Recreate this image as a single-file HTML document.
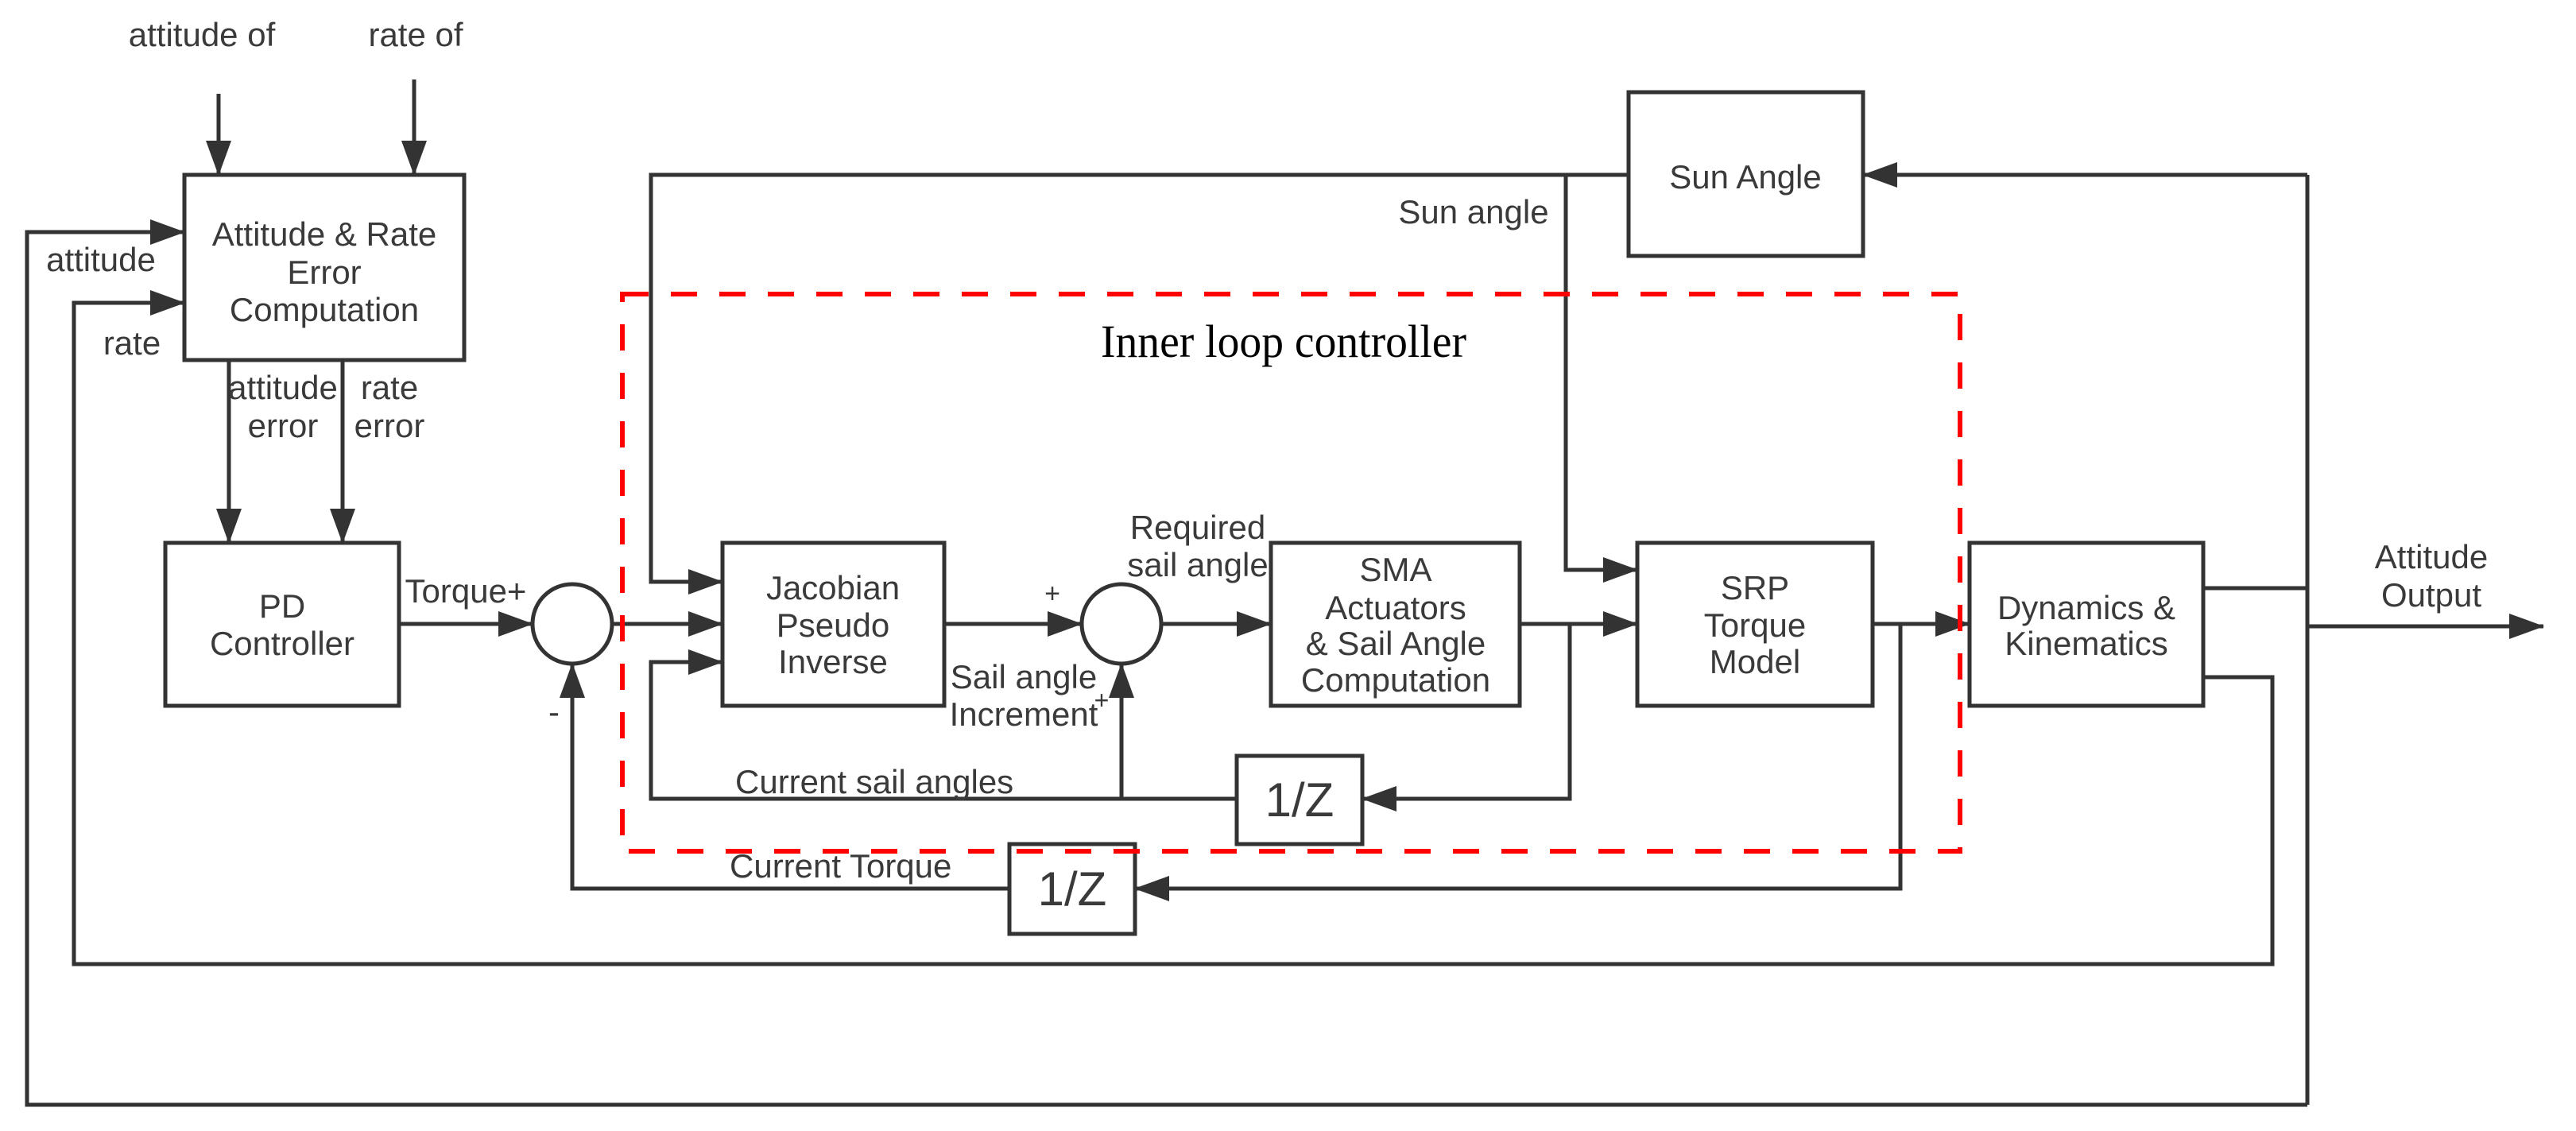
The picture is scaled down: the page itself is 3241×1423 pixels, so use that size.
<!DOCTYPE html>
<html><head><meta charset="utf-8"><style>
html,body{margin:0;padding:0;background:#fff;}
svg{display:block;}
text{font-family:"Liberation Sans",sans-serif;fill:#3a3a3a;}
</style></head><body>
<svg width="3241" height="1423" viewBox="0 0 3241 1423" xmlns="http://www.w3.org/2000/svg">
<defs>
<marker id="a" markerWidth="44" markerHeight="32" refX="43" refY="16" orient="auto" markerUnits="userSpaceOnUse">
<path d="M0,0 L44,16 L0,32 Z" fill="#333"/>
</marker>
</defs>
<g fill="none" stroke="#333" stroke-width="5">
<rect x="232" y="220" width="352" height="233"/>
<rect x="208" y="683" width="294" height="205"/>
<rect x="909" y="683" width="279" height="205"/>
<rect x="1599" y="683" width="313" height="205"/>
<rect x="2060" y="683" width="296" height="205"/>
<rect x="2478" y="683" width="294" height="205"/>
<rect x="2049" y="116" width="295" height="206"/>
<rect x="1556" y="951" width="158" height="111"/>
<rect x="1270" y="1062" width="158" height="113"/>
<circle cx="720" cy="785" r="50"/>
<circle cx="1411" cy="785" r="50"/>
<path d="M275,118 V220" marker-end="url(#a)"/>
<path d="M521,100 V220" marker-end="url(#a)"/>
<path d="M2903,1390 H34 V292 H232" marker-end="url(#a)"/>
<path d="M2772,852 H2859 V1213 H93 V381 H232" marker-end="url(#a)"/>
<path d="M288,453 V683" marker-end="url(#a)"/>
<path d="M431,453 V683" marker-end="url(#a)"/>
<path d="M502,785 H670" marker-end="url(#a)"/>
<path d="M770,785 H909" marker-end="url(#a)"/>
<path d="M2049,220 H819 V732 H909" marker-end="url(#a)"/>
<path d="M1556,1005 H819 V833 H909" marker-end="url(#a)"/>
<path d="M1411,1005 V835" marker-end="url(#a)"/>
<path d="M1188,785 H1361" marker-end="url(#a)"/>
<path d="M1461,785 H1599" marker-end="url(#a)"/>
<path d="M1912,785 H2060" marker-end="url(#a)"/>
<path d="M1975,785 V1005 H1714" marker-end="url(#a)"/>
<path d="M1970,220 V717 H2060" marker-end="url(#a)"/>
<path d="M2356,785 H2478" marker-end="url(#a)"/>
<path d="M2391,785 V1118 H1428" marker-end="url(#a)"/>
<path d="M1270,1118 H720 V835" marker-end="url(#a)"/>
<path d="M2772,740 H2903"/>
<path d="M2903,220 V1390"/>
<path d="M2903,220 H2344" marker-end="url(#a)"/>
<path d="M2903,788 H3200" marker-end="url(#a)"/>
</g>
<rect x="783" y="370" width="1683" height="701" fill="none" stroke="#f00" stroke-width="6" stroke-dasharray="33 28"/>

<g font-size="42" text-anchor="middle">
<text x="254" y="58">attitude of</text>
<text x="523" y="58">rate of</text>
<text x="127" y="341">attitude</text>
<text x="166" y="446">rate</text>
<text x="408" y="309">Attitude &amp; Rate</text>
<text x="408" y="357">Error</text>
<text x="408" y="404">Computation</text>
<text x="356" y="502">attitude</text>
<text x="356" y="550">error</text>
<text x="490" y="502">rate</text>
<text x="490" y="550">error</text>
<text x="355" y="777">PD</text>
<text x="355" y="824">Controller</text>
<text x="586" y="758">Torque+</text>
<text x="697" y="910">-</text>
<text x="1048" y="754">Jacobian</text>
<text x="1048" y="801">Pseudo</text>
<text x="1048" y="847">Inverse</text>
<text x="1324" y="758" font-size="34">+</text>
<text x="1507" y="678">Required</text>
<text x="1507" y="725">sail angle</text>
<text x="1288" y="866">Sail angle</text>
<text x="1288" y="913">Increment</text>
<text x="1386" y="892" font-size="32">+</text>
<text x="1756" y="731">SMA</text>
<text x="1756" y="779">Actuators</text>
<text x="1756" y="824">&amp; Sail Angle</text>
<text x="1756" y="870">Computation</text>
<text x="2208" y="754">SRP</text>
<text x="2208" y="801">Torque</text>
<text x="2208" y="847">Model</text>
<text x="2625" y="779">Dynamics &amp;</text>
<text x="2625" y="824">Kinematics</text>
<text x="2196" y="237">Sun Angle</text>
<text x="1854" y="281">Sun angle</text>
<text x="3059" y="715">Attitude</text>
<text x="3059" y="763">Output</text>
</g>
<g font-size="42">
<text x="925" y="998">Current sail angles</text>
<text x="918" y="1104">Current Torque</text>
</g>
<g font-size="60" text-anchor="middle">
<text x="1635" y="1027">1/Z</text>
<text x="1349" y="1139">1/Z</text>
</g>
<text x="1385" y="449" font-size="58" textLength="460" lengthAdjust="spacingAndGlyphs" style="font-family:'Liberation Serif',serif;fill:#000;">Inner loop controller</text>
</svg>
</body></html>
